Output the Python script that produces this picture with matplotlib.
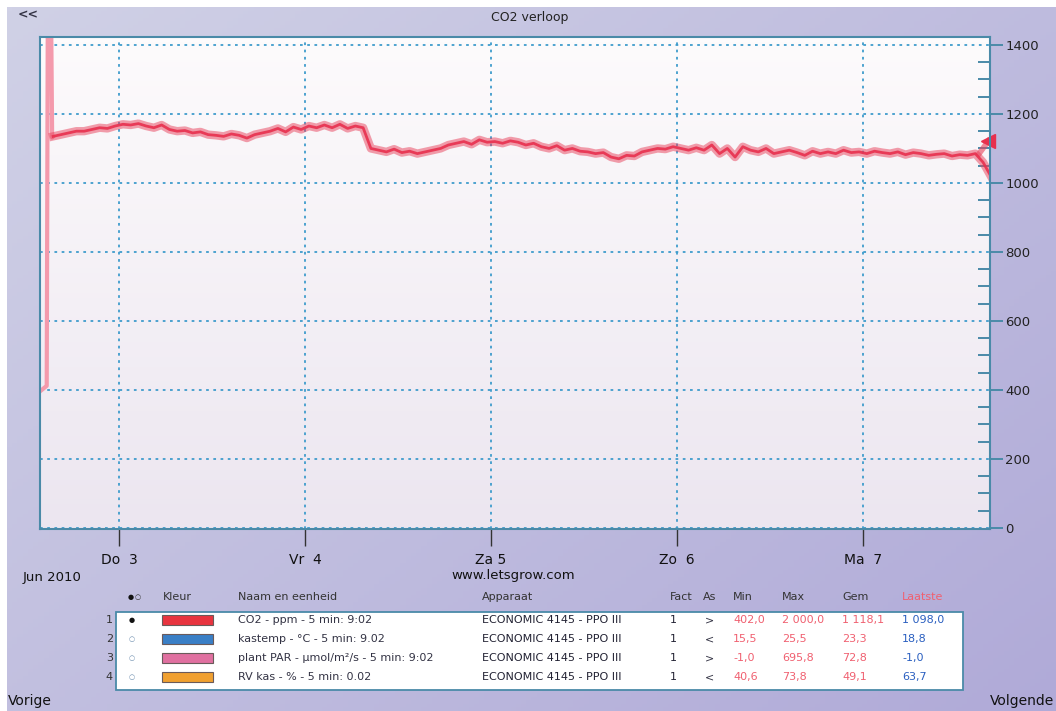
import numpy as np
import matplotlib.pyplot as plt
from matplotlib.patches import Rectangle

W, H = 1056, 711

# CO2 (ppm), hourly readings from Jun 2 15:30 on
co2_start = np.datetime64('2010-06-02T15:30')
co2 = [1135, 1140, 1145, 1150, 1150, 1155, 1160, 1158, 1165, 1170, 1168, 1172,
       1165, 1160, 1168, 1155, 1150, 1152, 1145, 1148, 1140, 1138, 1135, 1142,
       1138, 1130, 1140, 1145, 1150, 1158, 1148, 1162, 1155, 1165, 1160, 1168,
       1160, 1170, 1158, 1165, 1160, 1100, 1095, 1090, 1098, 1088, 1092, 1085,
       1090, 1095, 1100, 1110, 1115, 1120, 1112, 1125, 1118, 1120, 1115, 1122,
       1118, 1110, 1115, 1105, 1100, 1108, 1095, 1100, 1092, 1090, 1085, 1088,
       1075, 1070, 1080, 1078, 1090, 1095, 1100, 1098, 1105, 1100, 1095, 1102,
       1095, 1110, 1085, 1100, 1075, 1105, 1095, 1090, 1100, 1085, 1090, 1095,
       1088, 1080, 1092, 1085, 1090, 1085, 1095, 1088, 1090, 1085, 1092, 1088,
       1085, 1090, 1082, 1088, 1085, 1080, 1083, 1085, 1078, 1082, 1080, 1085,
       1060, 1020]
# start-up spike
spike_t = ['2010-06-02T13:48', '2010-06-02T14:40', '2010-06-02T14:48',
           '2010-06-02T15:15', '2010-06-02T15:22', '2010-06-02T15:30']
spike_v = [396, 412, 1450, 1450, 1132, 1135]
# last reading branch at the right edge
last_t = ['2010-06-07T15:00', '2010-06-07T16:12']
last_v = [1085, 1122]

day_ticks = ['2010-06-03', '2010-06-04', '2010-06-05', '2010-06-06', '2010-06-07']
day_labels = ['Do  3', 'Vr  4', 'Za 5', 'Zo  6', 'Ma  7']

# legend table
row_no = ['1', '2', '3', '4']
sel = ['●', '○', '○', '○']
swatch = ['#e8343f', '#3a7fc6', '#e070a0', '#f0a030']
names = ['CO2 - ppm - 5 min: 9:02', 'kastemp - °C - 5 min: 9.02',
         'plant PAR - µmol/m²/s - 5 min: 9:02', 'RV kas - % - 5 min: 0.02']
device = ['ECONOMIC 4145 - PPO III'] * 4
fact = ['1', '1', '1', '1']
axis_dir = ['>', '<', '>', '<']
v_min = ['402,0', '15,5', '-1,0', '40,6']
v_max = ['2 000,0', '25,5', '695,8', '73,8']
v_gem = ['1 118,1', '23,3', '72,8', '49,1']
v_last = ['1 098,0', '18,8', '-1,0', '63,7']


def fx(x):
    return x / W


def fy(y):
    return 1 - y / H


fig = plt.figure(figsize=(W / 100, H / 100), dpi=100)
fig.patch.set_facecolor('white')

# lavender backdrop
bg = fig.add_axes([fx(7), 0, 1 - fx(7), fy(7)], zorder=-2)
gx, gy = np.meshgrid(np.linspace(0, 1, 200), np.linspace(0, 1, 200))
t = 0.55 * gx + 0.45 * gy
c0 = np.array([208, 209, 230]) / 255
c1 = np.array([176, 170, 216]) / 255
img = c0[None, None, :] * (1 - t[..., None]) + c1[None, None, :] * t[..., None]
bg.imshow(img, aspect='auto', extent=[0, 1, 0, 1])
bg.axis('off')

# plot area
L, R, T, B = 40, 990, 37, 529
pos = [fx(L), fy(B), fx(R) - fx(L), fy(T) - fy(B)]
pa = fig.add_axes(pos, zorder=-1)
gy2 = np.linspace(0, 1, 100)[:, None]
top = np.array([253, 251, 252]) / 255
bot = np.array([236, 230, 240]) / 255
pa.imshow(top[None, None, :] * (1 - gy2[..., None]) + bot[None, None, :] * gy2[..., None],
          aspect='auto', extent=[0, 1, 0, 1])
pa.axis('off')

ax = fig.add_axes(pos)
ax.patch.set_alpha(0)

times = co2_start + np.arange(len(co2)) * np.timedelta64(1, 'h')
ax.plot(np.array(spike_t, dtype='datetime64[m]'), spike_v, color='#f49aac', lw=3)
ax.plot(np.array(last_t, dtype='datetime64[m]'), last_v, color='#e8405a', lw=4, alpha=0.6)
ax.plot(times, co2, color='#e8405a', lw=6, alpha=0.5)
ax.plot(times, co2, color='#e8304e', lw=2, alpha=0.9)
ax.plot([np.datetime64(last_t[-1])], [last_v[-1]], marker='<', ms=10, color='#e8304e',
        clip_on=False)

ax.set_xlim(np.datetime64('2010-06-02T13:48'), np.datetime64('2010-06-07T16:24'))
ax.set_ylim(-3, 1423)

ax.set_xticks(np.array(day_ticks, dtype='datetime64[D]'))
ax.set_xticklabels(day_labels)
ax.yaxis.tick_right()
ax.set_yticks(range(0, 1401, 200))
ax.set_yticks(range(50, 1400, 50), minor=True)
ax.tick_params(axis='x', direction='out', length=12, width=1, color='#333333',
               labelsize=10, pad=5, labelcolor='#111111')
ax.tick_params(axis='y', which='major', direction='out', length=9, width=1.4,
               color='#4a8aa8', labelsize=9.5, pad=2, labelcolor='#222222')
ax.tick_params(axis='y', which='minor', direction='in', length=9, width=1.4, color='#4a8aa8')
ax.grid(True, which='major', color='#3f9ccc', linestyle=(0, (1.5, 2.5)), lw=1.3)
for s in ax.spines.values():
    s.set_color('#4a8aa8')
    s.set_linewidth(1.5)

# texts around the chart
fig.text(fx(18), fy(15), '<<', fontsize=9, color='#333344', va='center', fontweight='bold')
fig.text(fx(530), fy(17), 'CO2 verloop', fontsize=9, color='#222222', ha='center', va='center')
fig.text(fx(23), fy(578), 'Jun 2010', fontsize=9.5, color='#111111', va='center')
fig.text(fx(513), fy(576), 'www.letsgrow.com', fontsize=9.5, color='#111111', ha='center', va='center')
fig.text(fx(8), fy(701), 'Vorige', fontsize=10, color='#111111', va='center')
fig.text(fx(990), fy(701), 'Volgende', fontsize=10, color='#111111', va='center')

# legend table
fig.patches.append(Rectangle((fx(116), fy(690)), fx(963) - fx(116), fy(612) - fy(690),
                             transform=fig.transFigure, facecolor='white',
                             edgecolor='#4a8aa8', lw=1.3))
fs = 8
hy = fy(597)
hdr = [(163, 'Kleur', '#333333'), (238, 'Naam en eenheid', '#333333'),
       (482, 'Apparaat', '#333333'), (670, 'Fact', '#333333'), (703, 'As', '#333333'),
       (733, 'Min', '#333333'), (782, 'Max', '#333333'), (842, 'Gem', '#333333'),
       (902, 'Laatste', '#f06070')]
for x, s, c in hdr:
    fig.text(fx(x), hy, s, fontsize=fs, color=c, va='center')
fig.text(fx(128), hy, '●', fontsize=5, color='#111111', va='center')
fig.text(fx(135), hy, '○', fontsize=5, color='#333333', va='center')

row_y = [620, 639, 658, 677]
for i, y in enumerate(row_y):
    yy = fy(y)
    fig.text(fx(113), yy, row_no[i], fontsize=fs, color='#333333', ha='right', va='center')
    fig.text(fx(129), yy, sel[i], fontsize=5, color='#111111' if i == 0 else '#7090b0',
             va='center')
    fig.patches.append(Rectangle((fx(162), fy(y + 5)), fx(213) - fx(162), fy(y - 5) - fy(y + 5),
                                 transform=fig.transFigure, facecolor=swatch[i],
                                 edgecolor='#6a5a5a', lw=0.8))
    fig.text(fx(238), yy, names[i], fontsize=fs, color='#333344', va='center')
    fig.text(fx(482), yy, device[i], fontsize=fs, color='#222233', va='center')
    fig.text(fx(670), yy, fact[i], fontsize=fs, color='#222233', va='center')
    fig.text(fx(705), yy, axis_dir[i], fontsize=fs, color='#333344', va='center')
    fig.text(fx(733), yy, v_min[i], fontsize=fs, color='#f06070', va='center')
    fig.text(fx(782), yy, v_max[i], fontsize=fs, color='#f06070', va='center')
    fig.text(fx(842), yy, v_gem[i], fontsize=fs, color='#f06070', va='center')
    fig.text(fx(902), yy, v_last[i], fontsize=fs, color='#2a5fc0', va='center')

fig.savefig('out.png', dpi=100)
